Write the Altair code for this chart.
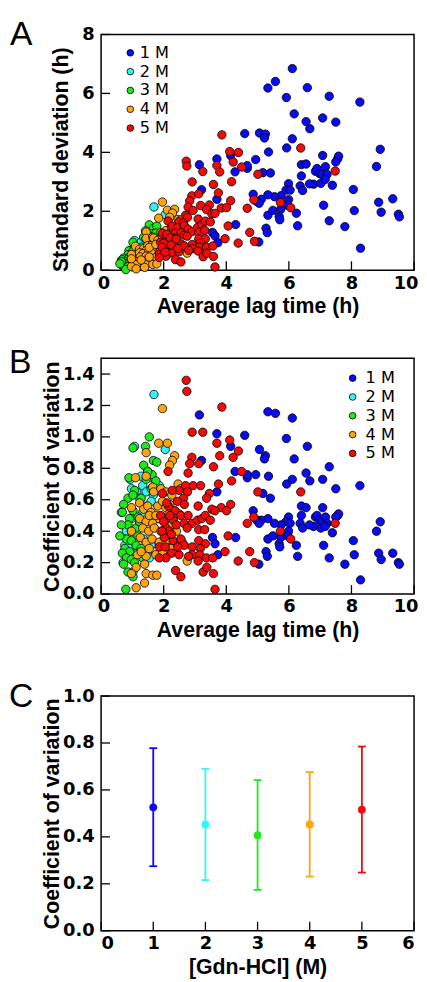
import altair as alt
import pandas as pd

FONT = "Liberation Sans"
LABEL_FONT = "DejaVu Sans"

conc_labels = ["1 M", "2 M", "3 M", "4 M", "5 M"]
conc_colors = ["#0a0af5", "#33f5f5", "#1ee81e", "#ffa40f", "#f50a0a"]

# Scatter points: average lag time (h) and coefficient of variation
lag_1M = [3.14, 3.70, 4.59, 4.14, 3.21, 5.33, 5.57, 6.11, 5.92, 6.59,
          5.06, 5.25, 5.22, 6.17, 7.29, 4.28, 4.67, 4.94, 4.67, 6.55,
          6.67, 7.08, 5.35, 7.50, 8.27, 5.93, 6.11, 3.70, 5.17, 5.41,
          6.40, 6.55, 5.99, 7.08, 7.56, 7.59, 7.50, 6.85, 6.90, 6.98,
          7.06, 7.17, 7.22, 6.79, 7.02, 7.16, 7.39, 6.40, 6.36, 6.44,
          6.66, 5.91, 5.75, 6.04, 5.54, 5.33, 5.12, 4.86, 4.97, 5.05,
          5.33, 5.49, 5.74, 5.69, 5.71, 5.99, 5.96, 6.24, 6.28, 5.27,
          5.31, 5.04, 7.11, 7.29, 7.79, 8.06, 8.09, 8.29, 8.80, 8.92,
          8.87, 8.95, 9.32, 9.50, 9.53, 3.56, 3.64, 3.73, 4.30]
cv_1M = [1.14, 1.02, 1.01, 0.94, 0.85, 1.16, 1.15, 1.12, 0.99, 0.94,
         0.92, 0.88, 0.86, 0.86, 0.81, 0.78, 0.74, 0.76, 0.76, 0.77,
         0.72, 0.73, 0.75, 0.67, 0.69, 0.70, 0.73, 0.65, 0.64, 0.61,
         0.56, 0.55, 0.49, 0.55, 0.50, 0.51, 0.49, 0.49, 0.50, 0.47,
         0.46, 0.49, 0.45, 0.43, 0.42, 0.43, 0.39, 0.50, 0.45, 0.42,
         0.44, 0.46, 0.44, 0.45, 0.45, 0.48, 0.47, 0.53, 0.47, 0.45,
         0.35, 0.37, 0.36, 0.32, 0.30, 0.40, 0.37, 0.31, 0.24, 0.27,
         0.24, 0.19, 0.31, 0.23, 0.19, 0.34, 0.25, 0.09, 0.40, 0.46,
         0.26, 0.22, 0.26, 0.20, 0.19, 0.36, 0.32, 0.25, 0.36]

lag_2M = [1.69, 2.05, 1.07, 1.49, 1.60, 1.86, 0.93, 0.97, 1.14, 1.33,
          1.44, 1.67, 1.23, 1.44, 1.60, 1.33, 1.60, 0.97, 1.23, 0.81,
          1.36, 1.60, 0.76, 0.97, 1.18, 0.70, 0.65, 1.49, 1.54, 1.02,
          1.75, 1.28]
cv_2M = [1.27, 0.92, 0.94, 0.78, 0.74, 0.69, 0.73, 0.67, 0.65, 0.69,
         0.65, 0.63, 0.61, 0.56, 0.59, 0.52, 0.48, 0.48, 0.44, 0.40,
         0.35, 0.31, 0.31, 0.30, 0.27, 0.20, 0.52, 0.27, 0.23, 0.14,
         0.48, 0.75]

lag_3M = [1.54, 1.42, 1.02, 1.67, 1.78, 1.36, 0.89, 1.63, 1.49, 1.07,
          0.86, 0.72, 0.68, 0.91, 1.02, 1.18, 0.86, 0.97, 1.12, 0.81,
          0.97, 1.12, 0.76, 0.91, 0.68, 0.81, 0.97, 1.07, 0.72, 0.86,
          1.02, 0.79, 1.18, 1.28, 1.33, 1.02, 1.28, 1.44, 2.28, 2.07,
          1.60, 1.75, 1.23, 0.65, 0.60]
cv_3M = [1.00, 0.94, 0.93, 0.85, 0.84, 0.82, 0.74, 0.76, 0.78, 0.66,
         0.61, 0.57, 0.52, 0.48, 0.53, 0.49, 0.44, 0.40, 0.42, 0.35,
         0.34, 0.31, 0.29, 0.27, 0.26, 0.23, 0.22, 0.20, 0.19, 0.14,
         0.11, 0.03, 0.37, 0.29, 0.23, 0.63, 0.61, 0.73, 0.41, 0.31,
         0.67, 0.72, 0.46, 0.44, 0.37]

lag_4M = [1.96, 2.12, 1.84, 1.44, 2.35, 2.28, 2.19, 1.10, 1.44, 1.65,
          1.68, 1.91, 2.07, 2.26, 2.46, 2.54, 0.97, 1.23, 1.36, 1.49,
          1.60, 1.81, 1.96, 2.07, 2.20, 2.17, 2.49, 1.23, 1.44, 1.65,
          1.86, 2.02, 1.33, 1.52, 1.70, 1.91, 1.25, 1.44, 1.63, 1.86,
          2.07, 2.23, 1.16, 1.44, 1.75, 1.96, 2.75, 1.12, 1.39, 0.97,
          1.44, 1.65, 1.78, 1.39, 1.12, 1.28, 1.54, 0.97, 1.54, 1.75,
          2.26, 2.41, 2.12, 2.59]
cv_4M = [1.18, 0.96, 0.96, 0.90, 0.88, 0.85, 0.82, 0.74, 0.75, 0.68,
         0.65, 0.67, 0.65, 0.63, 0.70, 0.67, 0.55, 0.58, 0.54, 0.56,
         0.52, 0.56, 0.59, 0.55, 0.57, 0.51, 0.51, 0.48, 0.46, 0.45,
         0.48, 0.46, 0.42, 0.40, 0.42, 0.40, 0.36, 0.33, 0.35, 0.33,
         0.34, 0.29, 0.25, 0.24, 0.25, 0.26, 0.21, 0.17, 0.19, 0.13,
         0.13, 0.12, 0.12, 0.07, 0.04, 0.27, 0.29, 0.40, 0.50, 0.50,
         0.44, 0.40, 0.40, 0.33]

lag_5M = [2.72, 2.74, 3.86, 2.91, 3.25, 3.70, 4.11, 4.22, 4.39, 3.79,
          2.90, 2.83, 3.12, 3.59, 2.78, 2.14, 4.49, 3.75, 4.17, 2.94,
          3.18, 2.70, 2.49, 2.76, 2.27, 1.96, 5.01, 6.38, 3.46, 3.37,
          2.63, 2.44, 2.66, 3.10, 4.14, 3.84, 3.54, 3.64, 4.01, 2.15,
          2.36, 2.31, 2.55, 2.78, 2.65, 2.91, 3.08, 3.22, 3.33, 3.49,
          3.12, 3.31, 2.75, 4.88, 4.67, 7.48, 5.73, 6.06, 4.06, 2.07,
          2.18, 2.02, 1.86, 2.30, 2.55, 2.66, 2.91, 3.12, 3.33, 3.17,
          2.91, 2.80, 3.15, 3.37, 3.96, 3.57, 4.75, 4.38, 4.90, 2.25,
          2.07, 2.49, 2.38, 2.55, 3.10, 3.26, 3.38, 3.59, 3.64, 1.86,
          1.90, 2.00, 2.10, 2.20, 1.95, 2.05, 2.25, 2.40, 2.45]
cv_5M = [1.36, 1.29, 1.19, 1.03, 1.03, 0.96, 0.98, 0.87, 0.91, 0.88,
         0.87, 0.83, 0.83, 0.81, 0.77, 0.78, 0.78, 0.70, 0.72, 0.69,
         0.69, 0.69, 0.66, 0.65, 0.66, 0.64, 0.65, 0.65, 0.64, 0.61,
         0.61, 0.59, 0.57, 0.56, 0.57, 0.55, 0.54, 0.53, 0.53, 0.56,
         0.53, 0.47, 0.50, 0.50, 0.45, 0.45, 0.47, 0.48, 0.50, 0.47,
         0.41, 0.41, 0.42, 0.49, 0.45, 0.45, 0.40, 0.35, 0.37, 0.42,
         0.40, 0.36, 0.30, 0.34, 0.35, 0.31, 0.30, 0.34, 0.32, 0.29,
         0.25, 0.24, 0.25, 0.23, 0.27, 0.23, 0.27, 0.21, 0.20, 0.26,
         0.23, 0.25, 0.15, 0.11, 0.21, 0.14, 0.17, 0.13, 0.03, 0.23,
         0.50, 0.46, 0.58, 0.50, 0.40, 0.30, 0.38, 0.44, 0.30]

# Panel C: mean CV and error bar ends per [Gdn-HCl]
c_conc = [1, 2, 3, 4, 5]
c_mean = [0.526, 0.453, 0.407, 0.453, 0.516]
c_upper = [0.778, 0.690, 0.642, 0.676, 0.785]
c_lower = [0.275, 0.216, 0.174, 0.231, 0.248]

# Axis tick values
a_xticks = [0, 2, 4, 6, 8, 10]
a_yticks = [0, 2, 4, 6, 8]
b_yticks = [0.0, 0.2, 0.4, 0.6, 0.8, 1.0, 1.2, 1.4]
c_xticks = [0, 1, 2, 3, 4, 5, 6]
c_yticks = [0.0, 0.2, 0.4, 0.6, 0.8, 1.0]

rows = []
for lab, lags, cvs in zip(conc_labels,
                          [lag_1M, lag_2M, lag_3M, lag_4M, lag_5M],
                          [cv_1M, cv_2M, cv_3M, cv_4M, cv_5M]):
    for l, c in zip(lags, cvs):
        # standard deviation = CV x mean lag time
        rows.append({"conc": lab, "lag": l, "cv": c, "sd": round(l * c, 3)})
scatter_df = pd.DataFrame(rows)

c_df = pd.DataFrame({"conc": c_conc, "label": conc_labels, "mean": c_mean,
                     "hi": c_upper, "lo": c_lower})
legend_df = pd.DataFrame({"conc": conc_labels})

W = 316
H = 238
HC = 237
TICK = 9

color_scale = alt.Scale(domain=conc_labels, range=conc_colors)


def letter(txt, dx, dy):
    return alt.Chart(pd.DataFrame({"t": [txt]})).mark_text(
        font=FONT, fontSize=34, align="left", baseline="alphabetic", color="black"
    ).encode(x=alt.value(dx), y=alt.value(dy), text="t:N")


def inner_ticks(xvals, yvals, xscale, yscale, xaxis, yaxis, h):
    xt = alt.Chart(pd.DataFrame({"v": xvals})).mark_rule(color="black", strokeWidth=1.3).encode(
        x=alt.X("v:Q", scale=xscale, axis=xaxis),
        y=alt.value(h), y2=alt.value(h - TICK))
    yt = alt.Chart(pd.DataFrame({"w": yvals})).mark_rule(color="black", strokeWidth=1.3).encode(
        y=alt.Y("w:Q", scale=yscale, axis=yaxis),
        x=alt.value(0), x2=alt.value(TICK))
    return [xt, yt]


def legend_layers(sym_x, text_x, y_top, y_bot):
    ys = alt.Y("conc:N", scale=alt.Scale(domain=conc_labels, range=[y_top, y_bot], padding=0),
               axis=None)
    pts = alt.Chart(legend_df).mark_circle(
        size=45, stroke="black", strokeWidth=0.8, opacity=1
    ).encode(x=alt.value(sym_x), y=ys,
             color=alt.Color("conc:N", scale=color_scale, legend=None))
    txt = alt.Chart(legend_df).mark_text(
        font=LABEL_FONT, fontSize=16.3, align="left", baseline="middle", color="black"
    ).encode(x=alt.value(text_x), y=ys, text="conc:N")
    return [pts, txt]


x_scale_ab = alt.Scale(domain=[0, 10], nice=False)
x_axis_ab = alt.Axis(title="Average lag time (h)", values=a_xticks,
                     labelFlush=True, labelFlushOffset=4)


def scatter_panel(yfield, ytitle, ydom, yvals, yfmt, title_pad, title_y,
                  let, ldx, ldy, leg):
    yscale = alt.Scale(domain=ydom, nice=False)
    yaxis = alt.Axis(title=ytitle, values=yvals, format=yfmt,
                     titlePadding=title_pad, titleY=title_y)
    pts = alt.Chart(scatter_df).mark_circle(
        size=72, stroke="black", strokeWidth=0.8, opacity=1
    ).encode(
        x=alt.X("lag:Q", scale=x_scale_ab, axis=x_axis_ab),
        y=alt.Y(yfield + ":Q", scale=yscale, axis=yaxis),
        color=alt.Color("conc:N", scale=color_scale, legend=None),
    )
    return alt.layer(
        pts,
        *inner_ticks(a_xticks, yvals, x_scale_ab, yscale, x_axis_ab, None, H),
        *legend_layers(*leg),
        letter(let, ldx, ldy),
    ).resolve_scale(y="independent").properties(width=W, height=H)


panel_a = scatter_panel("sd", "Standard deviation (h)", [0, 8], a_yticks, "d",
                        9, 126, "A", -92, 11, (29.5, 39, 18.5, 94.5))
panel_b = scatter_panel("cv", "Coefficient of variation", [0, 1.5], b_yticks, ".1f",
                        -1, H / 2, "B", -93, 15, (254, 267, 20, 96))

cx_scale = alt.Scale(domain=[0, 6], nice=False)
cx_axis = alt.Axis(title="[Gdn-HCl] (M)", values=c_xticks)
cy_scale = alt.Scale(domain=[0, 1], nice=False)
cy_axis = alt.Axis(title="Coefficient of variation", values=c_yticks, format=".1f",
                   titlePadding=-1)
cx = alt.X("conc:Q", scale=cx_scale, axis=cx_axis)
ccol = alt.Color("label:N", scale=color_scale, legend=None)

bars = alt.Chart(c_df).mark_rule(strokeWidth=1.8).encode(
    x=cx, y=alt.Y("lo:Q", scale=cy_scale, axis=cy_axis), y2="hi:Q", color=ccol)
cap_hi = alt.Chart(c_df).mark_rule(strokeWidth=1.8, xOffset=-4, x2Offset=4).encode(
    x=cx, x2=alt.X2("conc:Q"), y=alt.Y("hi:Q", scale=cy_scale, axis=cy_axis), color=ccol)
cap_lo = alt.Chart(c_df).mark_rule(strokeWidth=1.8, xOffset=-4, x2Offset=4).encode(
    x=cx, x2=alt.X2("conc:Q"), y=alt.Y("lo:Q", scale=cy_scale, axis=cy_axis), color=ccol)
dots = alt.Chart(c_df).mark_circle(size=62, opacity=1).encode(
    x=cx, y=alt.Y("mean:Q", scale=cy_scale, axis=cy_axis), color=ccol)

panel_c = alt.layer(
    bars, cap_hi, cap_lo, dots,
    *inner_ticks(c_xticks, c_yticks, cx_scale, cy_scale, cx_axis, cy_axis, HC),
    letter("C", -93, 11),
).properties(width=W, height=HC)

top_two = alt.vconcat(panel_a, panel_b, spacing=27)

chart = alt.vconcat(top_two, panel_c, spacing=37).properties(
    padding={"left": 0, "top": 5, "right": 0, "bottom": 0}
).configure_view(
    stroke="black", strokeWidth=1.5
).configure_axis(
    labelFont=LABEL_FONT, labelFontSize=18, labelFontWeight="bold", labelColor="black",
    titleFont=FONT, titleFontSize=21.5, titleFontWeight="bold", titleColor="black",
    grid=False, ticks=False, domain=False
).configure_axisX(
    labelPadding=4, titlePadding=4
).configure_axisY(
    labelPadding=7
)

chart.save("out.html", embed_options={"renderer": "svg", "actions": False})
